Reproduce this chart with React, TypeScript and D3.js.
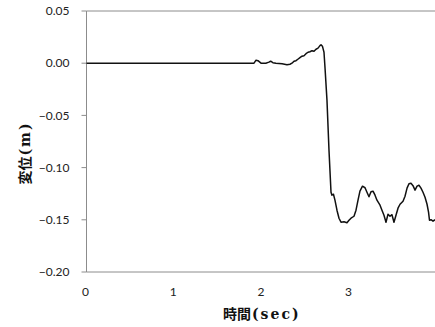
import React from "react";
import * as d3 from "d3";

const times: number[] = [
  0, 1.91, 1.933, 1.955, 1.99, 2.045, 2.08, 2.1, 2.125, 2.16, 2.23, 2.286, 2.32, 2.343, 2.366, 2.389,
  2.41, 2.434, 2.457, 2.48, 2.503, 2.526, 2.548, 2.571, 2.594, 2.617, 2.64, 2.662, 2.674, 2.69,
  2.708, 2.72, 2.742, 2.765, 2.788, 2.799, 2.816, 2.833, 2.856, 2.879, 2.902, 2.936, 2.97, 2.993,
  3.016, 3.05, 3.073, 3.096, 3.118, 3.147, 3.176, 3.198, 3.221, 3.244, 3.267, 3.29, 3.312, 3.347,
  3.369, 3.392, 3.415, 3.438, 3.461, 3.483, 3.506, 3.529, 3.552, 3.575, 3.609, 3.632, 3.655, 3.677,
  3.7, 3.723, 3.746, 3.769, 3.791, 3.814, 3.837, 3.86, 3.883, 3.9, 3.911, 3.928, 3.951, 3.974,
];
const displacement: number[] = [
  0, 0, 0.0029, 0.0024, 0, 0, 0.001, 0.0019, 0.0005, 0, -0.0005, -0.0014, -0.001, 0, 0.0019, 0.0024,
  0.0038, 0.0053, 0.0067, 0.0072, 0.0091, 0.0105, 0.011, 0.012, 0.0115, 0.0134, 0.0144, 0.0168, 0.0177, 0.0163,
  0.0105, -0.0048, -0.0354, -0.0833, -0.1236, -0.1264, -0.1255, -0.1312, -0.1408, -0.1485, -0.1523, -0.1518, -0.1528, -0.1504,
  -0.1485, -0.1466, -0.1408, -0.1312, -0.1226, -0.1178, -0.1193, -0.1236, -0.1279, -0.1231, -0.1226, -0.1264, -0.1312, -0.136,
  -0.1408, -0.1456, -0.1523, -0.1446, -0.1466, -0.1451, -0.1523, -0.1456, -0.1389, -0.1351, -0.1322, -0.1274, -0.1197, -0.1154,
  -0.1149, -0.1173, -0.1216, -0.1178, -0.1169, -0.1197, -0.1236, -0.1284, -0.1351, -0.1427, -0.1504, -0.1499, -0.1513, -0.1499,
];
const yTicks: number[] = [0.05, 0, -0.05, -0.1, -0.15, -0.2];
const xTicks: number[] = [0, 1, 2, 3];
const xTitleCjk = "時間";
const xTitleUnit = "(sec)";
const yTitleCjk = "変位";
const yTitleUnit = "(m)";

const W = 435;
const H = 327;
const left = 86.5;
const right = 437.3;
const top = 11;
const bottom = 272;

export default function App() {
  const x = d3.scaleLinear().domain([0, 4]).range([left, right]);
  const y = d3.scaleLinear().domain([-0.2, 0.05]).range([bottom, top]);
  const data = times.map((t, i) => [t, displacement[i]] as [number, number]);
  const line = d3
    .line<[number, number]>()
    .x((d) => x(d[0]))
    .y((d) => y(d[1]))
    .curve(d3.curveLinear);
  const axisColor = "#8c8c8c";
  const tickFont = "Lato, 'Open Sans', sans-serif";
  const cjkFont = "'Noto Sans CJK JP', sans-serif";
  const unitFont = "'DejaVu Serif', serif";
  return (
    <svg
      width={W}
      height={H}
      style={{ position: "absolute", left: 0, top: 0, background: "#fff" }}
    >
      <rect x={0} y={0} width={W} height={H} fill="#fff" />
      <line x1={left} x2={W} y1={y(0.05)} y2={y(0.05)} stroke={axisColor} strokeWidth={1} />
      <line x1={left} x2={W} y1={y(-0.2)} y2={y(-0.2)} stroke={axisColor} strokeWidth={1} />
      <line x1={left} x2={left} y1={top} y2={bottom} stroke={axisColor} strokeWidth={1} />
      {yTicks.map((v) => (
        <g key={v}>
          <line x1={left - 5} x2={left} y1={y(v)} y2={y(v)} stroke={axisColor} strokeWidth={1} />
          <text
            x={69.5}
            y={y(v)}
            dy="0.35em"
            textAnchor="end"
            fontFamily={tickFont}
            fontSize={12}
            fill="#222"
          >
            {d3.format(".2f")(v)}
          </text>
        </g>
      ))}
      {xTicks.map((t) => (
        <text
          key={t}
          x={x(t) - 1}
          y={292}
          dy="0.35em"
          textAnchor="middle"
          fontFamily={tickFont}
          fontSize={12}
          fill="#222"
        >
          {t}
        </text>
      ))}
      <path d={line(data) || ""} fill="none" stroke="#111" strokeWidth={1.5} strokeLinejoin="round" />
      <text
        x={223}
        y={314}
        dy="0.38em"
        textAnchor="start"
        fontWeight="bold"
        fontSize={14}
        fill="#111"
      >
        <tspan fontFamily={cjkFont}>{xTitleCjk}</tspan>
        <tspan fontFamily={unitFont} letterSpacing={2} dx={1}>{xTitleUnit}</tspan>
      </text>
      <text
        transform={`translate(25,153) rotate(-90)`}
        dy="0.38em"
        textAnchor="middle"
        fontWeight="bold"
        fontSize={14}
        fill="#111"
      >
        <tspan fontFamily={cjkFont}>{yTitleCjk}</tspan>
        <tspan fontFamily={unitFont} letterSpacing={2} dx={1}>{yTitleUnit}</tspan>
      </text>
    </svg>
  );
}
